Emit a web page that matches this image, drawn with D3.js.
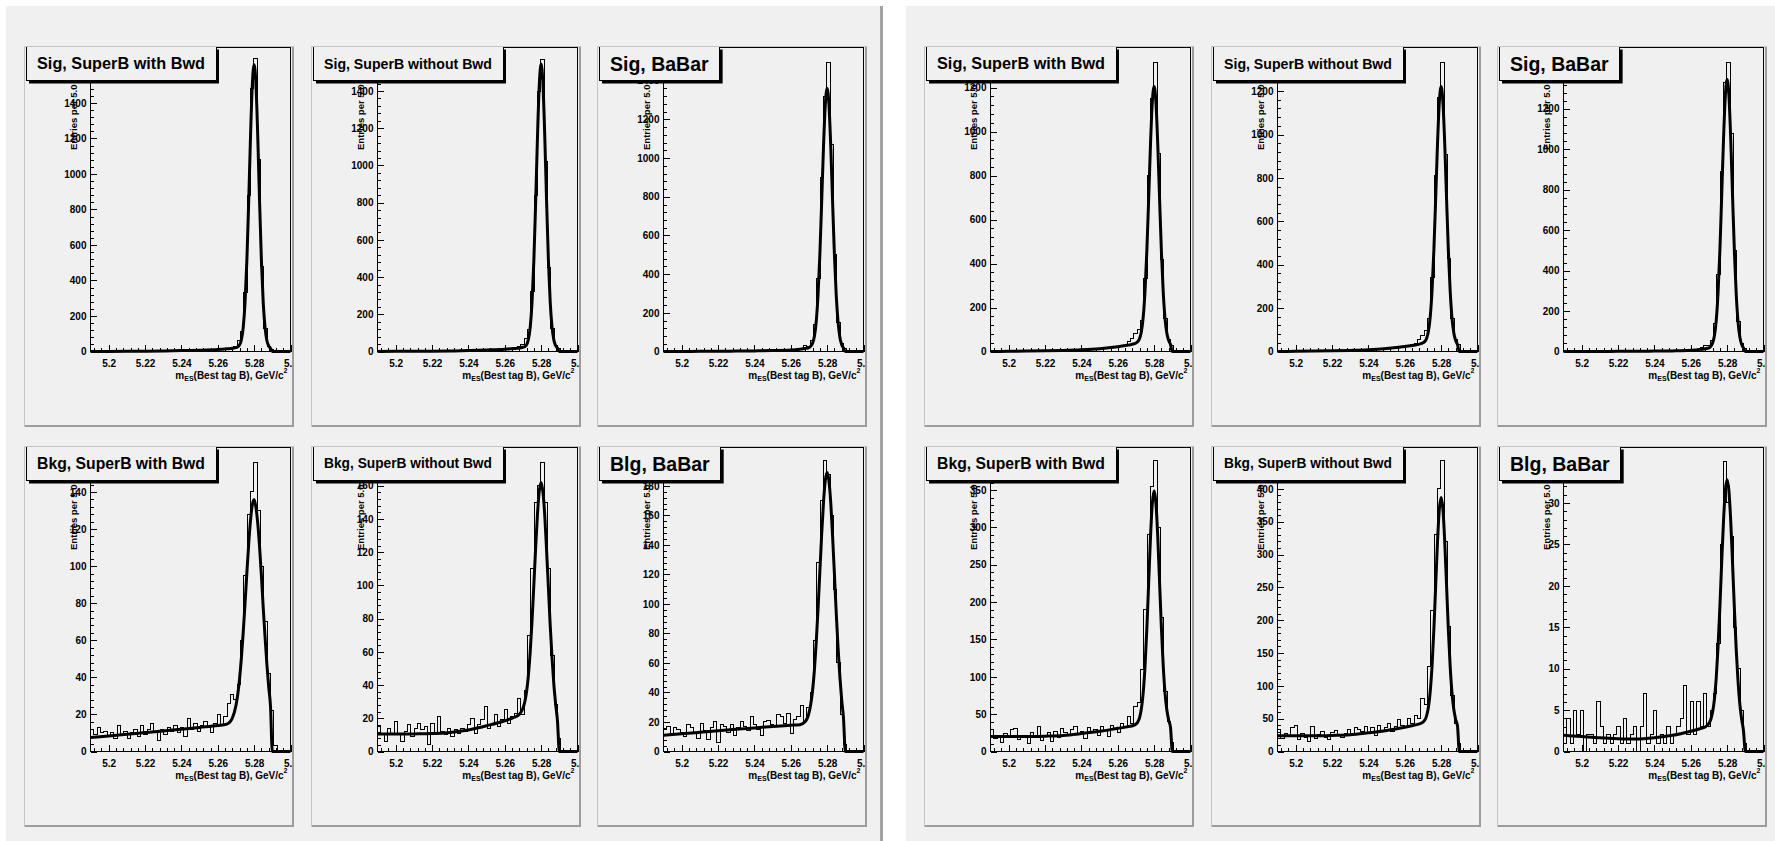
<!DOCTYPE html>
<html>
<head>
<meta charset="utf-8">
<script src="https://cdn.jsdelivr.net/npm/d3@7"></script>
<style>
  body { margin: 0; background: #ffffff; }
  svg { display: block; }
</style>
</head>
<body>
<svg id="chart" width="1775" height="841"></svg>
<script>
// ---- data ----
const xLo = 5.19, xHi = 5.30;
const xTicks = [5.2, 5.22, 5.24, 5.26, 5.28, 5.3];
const xTickLabels = ["5.2", "5.22", "5.24", "5.26", "5.28", "5.3"];
const titles = ["Sig, SuperB with Bwd", "Sig, SuperB without Bwd", "Sig, BaBar",
                "Bkg, SuperB with Bwd", "Bkg, SuperB without Bwd", "Blg, BaBar"];
const yTitle = "Entries per 5.0";

// y range of each frame (left canvas / right canvas) and label step
const yMaxL = [1712, 1634, 1572, 164, 183, 206];
const yStepL = [200, 200, 200, 20, 20, 20];
const yMaxR = [1382, 1401, 1503, 407, 463, 36.7];
const yStepR = [200, 200, 200, 50, 50, 5];

// x of the sampled points of the fit curves (shared by all panels)
const fitX = [5.190, 5.200, 5.210, 5.220, 5.230, 5.240, 5.250, 5.260, 5.265, 5.268,
              5.270, 5.271, 5.272, 5.273, 5.274, 5.275, 5.276, 5.277, 5.278, 5.279,
              5.280, 5.281, 5.282, 5.283, 5.284, 5.285, 5.286, 5.287, 5.288, 5.289,
              5.290, 5.300];

// ---- left canvas ----
const histL_SigWith = [
  0,1,0,0,1,0,1,1,0,1, 1,2,1,1,2,2,2,3,2,3, 3,3,4,3,4,5,4,5,6,5,
  6,7,7,8,8,9,10,11,12,13, 16,18,24,30,60,110,330,880,1480,1650,
  1080,480,130,30,12,0,0,0,0,0];
const histL_SigWithout = [
  0,0,1,0,1,0,0,1,1,0, 1,1,2,1,2,2,3,2,3,3, 3,4,3,4,5,4,5,6,5,6,
  7,7,8,9,9,10,11,12,13,15, 17,20,26,35,68,120,320,840,1400,1570,
  1020,450,125,32,14,0,0,0,0,0];
const histL_SigBaBar = [
  0,0,0,1,0,0,1,0,0,1, 0,1,1,1,1,2,1,2,2,2, 2,3,2,3,3,4,3,4,4,5,
  5,5,6,6,7,7,8,9,10,11, 13,16,30,25,55,140,380,900,1320,1493,
  1070,500,150,40,15,0,0,0,0,0];
const histL_BkgWith = [
  12,9,13,10,11,8,10,7,14,9, 11,7,10,12,8,14,9,12,15,10, 6,12,9,13,11,14,10,13,8,18,
  12,15,11,14,16,13,10,15,20,14, 19,26,31,28,36,60,95,128,140,156,
  130,100,70,42,22,3,0,0,0,0];
const histL_BkgWithout = [
  15,10,6,14,11,18,10,6,12,16, 9,14,17,13,15,4,17,10,21,12, 10,14,9,13,11,14,12,16,20,11,
  16,19,27,14,16,22,15,19,25,17, 21,23,32,22,37,70,110,150,160,174,
  150,110,58,28,8,0,0,0,0,0];
const histL_BkgBaBar = [
  15,17,12,16,15,13,10,18,16,13, 9,19,14,8,16,20,6,18,17,13, 18,11,16,20,17,14,24,18,15,11,
  20,21,18,17,25,24,19,26,12,22, 24,31,20,30,40,75,128,170,197,188,
  160,110,60,25,5,0,0,0,0,0];

const fitL_SigWith = [0,0.5,1,2,3,5,7,11,15,18, 22,26,37,66,136,275,512,842,1208,1502,
  1615,1502,1208,842,512,275,136,62,32,18, 0,0];
const fitL_SigWithout = [0,1,1,2,3,5,8,12,16,19, 23,26,36,65,131,264,490,806,1156,1437,
  1545,1437,1156,806,490,264,131,61,31,18, 0,0];
const fitL_SigBaBar = [0,0,1,1,2,3,5,8,12,16, 20,28,43,79,155,292,502,774,1059,1277,
  1360,1277,1059,774,502,292,155,74,36,18, 0,0];
const fitL_BkgWith = [7.5,8.4,9.3,10.2,11.1,12,13,14,14.8,18, 24.8,30.9,39.5,50.7,64.4,80,96.4,111.8,124.5,133.1,
  136,131.6,123,110.3,94.9,77.5,61.9,47.2,35,24.4, 0,0];
const fitL_BkgWithout = [10.5,10.5,10.6,10.8,11.5,13,15.5,18.5,20.5,22.4, 26.1,29.8,36.1,46,60.2,78.7,100.6,123,143,157,
  162,156,142,121,98.6,75.7,56.3,40.2,28.4,18.2, 0,0];
const fitL_BkgBaBar = [11,12,13,14,15,16,17,17.8,18.2,20.3, 26,32.1,41.5,55.3,73.9,96.6,122,147.2,168.9,183.7,
  189,183.2,168.4,145.7,120.5,94.1,70.4,50.8,35,22.6, 0,0];

// ---- right canvas ----
const histR_SigWith = [
  0,1,0,1,1,1,2,1,2,2, 2,3,2,3,3,4,3,4,5,5, 6,5,6,7,7,8,8,9,10,11,
  12,13,14,15,16,18,19,21,23,25, 28,45,60,80,100,140,330,800,1150,1312,
  900,420,150,55,28,0,0,0,0,0];
const histR_SigWithout = [
  0,0,1,1,0,1,1,2,1,2, 2,2,3,3,3,4,4,4,5,5, 6,6,7,7,8,8,9,10,10,11,
  12,13,15,15,17,18,20,22,24,26, 30,38,55,75,95,150,340,810,1170,1330,
  910,430,150,55,30,0,0,0,0,0];
const histR_SigBaBar = [
  0,0,0,0,1,0,0,0,1,0, 0,1,0,1,1,1,1,1,2,1, 2,2,2,2,3,2,3,3,3,4,
  4,4,5,5,6,6,7,8,9,10, 12,18,28,30,55,140,380,890,1330,1427,
  1080,500,150,40,14,0,0,0,0,0];
const histR_BkgWith = [
  30,17,22,12,24,20,29,31,16,21, 19,11,26,20,34,15,22,25,13,27, 19,31,25,21,29,33,24,27,18,32,
  25,30,22,34,28,20,35,30,26,37, 33,47,38,60,65,110,190,290,355,389,
  300,180,80,40,12,0,0,0,0,0];
const histR_BkgWithout = [
  34,20,27,25,36,40,18,28,22,15, 38,20,26,30,22,18,29,32,26,22, 28,34,27,36,33,31,38,29,36,24,
  40,32,37,42,30,38,48,40,36,50, 42,55,50,80,72,130,215,330,400,443,
  320,190,85,42,12,0,0,0,0,0];
const histR_BkgBaBar = [
  1,4,1,5,2,5,0,2,2,1, 6,3,1,2,1,2,3,1,4,1, 2,3,0,3,7,1,2,5,1,2,
  1,3,1,2,3,4,8,2,6,2, 6,3,7,3,5,7,13,25,35,30,
  26,15,10,5,1,0,0,0,0,0];

const fitR_SigWith = [0,1,2,3,5,8,13,22,28,33, 39,45,59,91,157,276,459,696,943,1133,
  1205,1131,940,692,454,270,150,83,50,32, 0,0];
const fitR_SigWithout = [0,1,2,3,5,8,14,23,29,34, 40,46,60,93,160,281,466,705,956,1148,
  1221,1146,953,700,460,274,152,84,50,32, 0,0];
const fitR_SigBaBar = [0,0,0,1,1,2,3,6,10,14, 18,26,42,78,153,289,497,766,1047,1263,
  1345,1262,1045,763,493,284,147,71,34,18, 0,0];
const fitR_BkgWith = [20,20,20,20.5,21.5,24,27,31,33,34.5, 36.7,39.5,45.4,57.5,79.1,114.7,165,226,287,332,
  349,332,287,226,165,114.7,78.1,55.5,41.9,32.5, 0,0];
const fitR_BkgWithout = [24,24,24,24.5,25.5,28.5,32,37,40,42, 44.8,47.8,54.3,67.5,91.2,130.2,185.6,252.6,319,368.5,
  387,368.5,318,251.6,183.6,128.2,88.2,63.5,48.8,38.8, 0,0];
const fitR_BkgBaBar = [1.95,1.8,1.65,1.55,1.5,1.65,1.95,2.45,2.75,2.95, 3.4,3.87,4.77,6.3,8.85,12.6,17.4,22.8,27.8,31.5,
  32.8,31.4,27.7,22.6,17.2,12.3,8.45,5.7,3.87,2.5, 0,0];

// ---- layout ----
const FONT = '"Liberation Sans", Arial, Helvetica, sans-serif';
const BG = "#f0f0f0";
const PAD_W = 270, PAD_H = 381;
const FX0 = 66.5, FX1 = 266.5, FY0 = 1.5, FY1 = 305.5;

const canvases = [
  {x: 6, w: 874, hists: [histL_SigWith, histL_SigWithout, histL_SigBaBar, histL_BkgWith, histL_BkgWithout, histL_BkgBaBar],
   fits: [fitL_SigWith, fitL_SigWithout, fitL_SigBaBar, fitL_BkgWith, fitL_BkgWithout, fitL_BkgBaBar],
   yMax: yMaxL, yStep: yStepL},
  {x: 906, w: 869, hists: [histR_SigWith, histR_SigWithout, histR_SigBaBar, histR_BkgWith, histR_BkgWithout, histR_BkgBaBar],
   fits: [fitR_SigWith, fitR_SigWithout, fitR_SigBaBar, fitR_BkgWith, fitR_BkgWithout, fitR_BkgBaBar],
   yMax: yMaxR, yStep: yStepR}
];

const svg = d3.select("#chart");

canvases.forEach(cv => {
  svg.append("rect")
    .attr("x", cv.x).attr("y", 6)
    .attr("width", cv.w).attr("height", 841 - 6)
    .attr("fill", BG);
});
// right edge of the left canvas
svg.append("rect").attr("x", 880).attr("y", 6).attr("width", 3).attr("height", 835).attr("fill", "#a3a3a3");

let clipCount = 0;

function drawPanel(px, py, title, hist, fit, yMax, yStep) {
  const g = svg.append("g").attr("transform", `translate(${px},${py})`);
  const clipId = "padclip" + (clipCount++);
  g.append("clipPath").attr("id", clipId)
    .append("rect").attr("width", PAD_W - 1).attr("height", PAD_H);
  const inner = g.append("g").attr("clip-path", `url(#${clipId})`);

  inner.append("rect").attr("width", PAD_W).attr("height", PAD_H).attr("fill", BG);

  const x = d3.scaleLinear().domain([xLo, xHi]).range([FX0, FX1]);
  const y = d3.scaleLinear().domain([0, yMax]).range([FY1, FY0]);

  // frame
  inner.append("rect")
    .attr("x", FX0).attr("y", FY0)
    .attr("width", FX1 - FX0).attr("height", FY1 - FY0)
    .attr("fill", "none").attr("stroke", "#000").attr("stroke-width", 1)
    .attr("shape-rendering", "crispEdges");

  // axes (ticks point into the frame)
  const xMinor = d3.range(0, 28).map(i => +(5.192 + i * 0.004).toFixed(3));
  const styleAxis = a => {
    a.attr("font-family", FONT).attr("font-size", 10).attr("font-weight", "bold");
    a.select(".domain").remove();
    a.selectAll("line").attr("shape-rendering", "crispEdges");
  };
  inner.append("g").attr("transform", `translate(0,${FY1})`)
    .call(d3.axisBottom(x).tickValues(xMinor).tickSize(-3.5).tickFormat(""))
    .call(styleAxis);
  inner.append("g").attr("transform", `translate(0,${FY1})`)
    .call(d3.axisBottom(x).tickValues(xTicks).tickSize(-7).tickPadding(8)
      .tickFormat((d, i) => xTickLabels[i]))
    .call(styleAxis);

  const yMajor = d3.range(0, yMax + 1e-9, yStep);
  const yMinor = d3.range(0, yMax, yStep / 5);
  inner.append("g").attr("transform", `translate(${FX0},0)`)
    .call(d3.axisLeft(y).tickValues(yMinor).tickSize(-3).tickFormat(""))
    .call(styleAxis);
  inner.append("g").attr("transform", `translate(${FX0},0)`)
    .call(d3.axisLeft(y).tickValues(yMajor).tickSize(-6).tickPadding(4).tickFormat(d3.format("d")))
    .call(styleAxis);

  // histogram
  const bw = (xHi - xLo) / hist.length;
  const pts = hist.map((v, i) => [xLo + i * bw, v]);
  pts.push([xHi, hist[hist.length - 1]]);
  inner.append("path")
    .attr("d", d3.line().x(d => x(d[0])).y(d => y(d[1])).curve(d3.curveStepAfter)(pts))
    .attr("fill", "none").attr("stroke", "#000").attr("stroke-width", 1)
    .attr("shape-rendering", "crispEdges");

  // fit curve
  inner.append("path")
    .attr("d", d3.line().x((d, i) => x(fitX[i])).y(d => y(d)).curve(d3.curveMonotoneX)(fit))
    .attr("fill", "none").attr("stroke", "#000").attr("stroke-width", 3)
    .attr("stroke-linejoin", "round");

  // axis titles
  inner.append("text")
    .attr("transform", `translate(${FX0 - 14},${FY0 + 37}) rotate(-90)`)
    .attr("text-anchor", "end")
    .attr("font-family", FONT).attr("font-size", 9.5).attr("font-weight", "bold")
    .text(yTitle);

  const xt = inner.append("text")
    .attr("x", FX1 - 3).attr("y", FY1 + 27)
    .attr("text-anchor", "end")
    .attr("font-family", FONT).attr("font-size", 10).attr("font-weight", "bold");
  xt.append("tspan").text("m");
  xt.append("tspan").attr("font-size", 7).attr("dy", 2.5).text("ES");
  xt.append("tspan").attr("dy", -2.5).text("(Best tag B), GeV/c");
  xt.append("tspan").attr("font-size", 7).attr("dy", -6).text("2");

  // title box with shadow
  const tb = inner.append("g").attr("transform", "translate(2,0.5)");
  const shadow = tb.append("rect").attr("fill", "#000");
  const box = tb.append("rect").attr("fill", BG).attr("stroke", "#000").attr("stroke-width", 1)
    .attr("shape-rendering", "crispEdges");
  const tt = tb.append("text")
    .attr("font-family", FONT).attr("font-weight", "bold").attr("font-size", 20)
    .attr("text-anchor", "middle").attr("dy", "0.36em")
    .text(title);
  const w20 = tt.node().getComputedTextLength();
  const fs = Math.min(19.5, 168 / w20 * 20);
  const tw = w20 * fs / 20;
  const boxW = Math.min(190, tw + 22), boxH = 34;
  tt.attr("font-size", fs).attr("x", boxW / 2).attr("y", boxH / 2);
  shadow.attr("x", 3).attr("y", 3).attr("width", boxW).attr("height", boxH);
  box.attr("x", 0).attr("y", 0).attr("width", boxW).attr("height", boxH);

  // pad bevel
  g.append("path")
    .attr("d", `M0.5,${PAD_H} V0.5 H${PAD_W}`)
    .attr("fill", "none").attr("stroke", "#c4c4c4").attr("stroke-width", 1);
  g.append("path")
    .attr("d", `M${PAD_W - 1},1 V${PAD_H - 1} H1`)
    .attr("fill", "none").attr("stroke", "#9c9c9c").attr("stroke-width", 2);
}

canvases.forEach(cv => {
  for (let r = 0; r < 2; r++) {
    for (let c = 0; c < 3; c++) {
      const idx = r * 3 + c;
      const px = Math.round(cv.x + 18 + c * 286.5);
      const py = Math.round(46 + r * 399.5);
      drawPanel(px, py, titles[idx], cv.hists[idx], cv.fits[idx], cv.yMax[idx], cv.yStep[idx]);
    }
  }
});
</script>
</body>
</html>
